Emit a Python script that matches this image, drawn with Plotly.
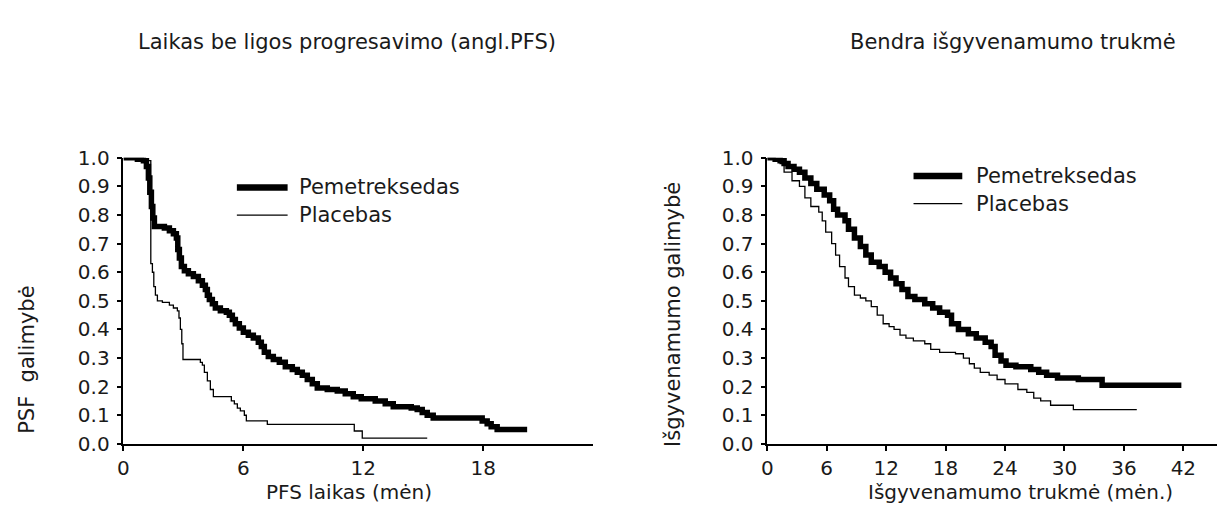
import plotly.graph_objects as go

# ---------------- data ----------------
pfs_pem_t = [0, 0.7, 1.0, 1.15, 1.25, 1.32, 1.4, 1.47, 1.55, 2.05, 2.3, 2.5, 2.65, 2.72, 2.8, 2.9,
             3.05, 3.25, 3.5, 3.75, 3.95, 4.1, 4.2, 4.3, 4.45, 4.6, 4.85, 5.15, 5.3, 5.45, 5.6,
             5.8, 6.0, 6.25, 6.5, 6.75, 6.9, 7.05, 7.25, 7.5, 7.8, 8.1, 8.45, 8.7, 8.95, 9.2,
             9.45, 9.7, 10.2, 10.7, 11.1, 11.5, 11.9, 12.6, 13.1, 13.5, 14.4, 14.7, 14.95,
             15.2, 15.5, 17.95, 18.2, 18.4, 18.7, 20.2]
pfs_pem_s = [1.0, 0.995, 0.99, 0.97, 0.93, 0.88, 0.83, 0.79, 0.76, 0.755, 0.745, 0.735, 0.72,
             0.68, 0.65, 0.62, 0.605, 0.595, 0.585, 0.57, 0.555, 0.54, 0.52, 0.505, 0.49, 0.475,
             0.465, 0.46, 0.45, 0.435, 0.42, 0.405, 0.39, 0.38, 0.37, 0.355, 0.34, 0.32, 0.305,
             0.295, 0.285, 0.27, 0.26, 0.25, 0.24, 0.225, 0.21, 0.195, 0.19, 0.185, 0.175, 0.165,
             0.158, 0.15, 0.14, 0.13, 0.125, 0.12, 0.11, 0.10, 0.09, 0.08, 0.07, 0.06, 0.05, 0.05]

pfs_pla_t = [0, 1.0, 1.37, 1.45, 1.52, 1.6, 1.7, 1.95, 2.3, 2.5, 2.7, 2.78, 2.85, 2.92, 2.98,
             3.85, 3.95, 4.05, 4.2, 4.35, 4.5, 5.4, 5.55, 5.7, 5.85, 6.05, 6.15, 7.2, 11.55,
             11.95, 15.2]
pfs_pla_s = [1.0, 0.99, 0.63, 0.60, 0.55, 0.52, 0.50, 0.495, 0.485, 0.475, 0.465, 0.44, 0.40,
             0.35, 0.295, 0.285, 0.275, 0.25, 0.22, 0.19, 0.165, 0.15, 0.14, 0.125, 0.115, 0.10,
             0.08, 0.068, 0.045, 0.02, 0.02]

os_pem_t = [0, 0.8, 1.3, 1.7, 2.1, 2.7, 3.25, 3.8, 4.4, 5.0, 5.75, 6.3, 6.7, 7.1, 7.85, 8.2,
            8.8, 9.4, 9.95, 10.5, 11.3, 11.9, 12.45, 13.0, 13.6, 14.2, 14.9, 15.9, 16.7, 17.4,
            18.2, 18.6, 19.3, 20.3, 21.1, 22.0, 22.6, 23.0, 23.6, 24.1, 25.1, 26.6, 27.4, 28.2,
            29.3, 31.4, 33.8, 41.8]
os_pem_s = [1.0, 0.995, 0.99, 0.98, 0.97, 0.96, 0.95, 0.93, 0.91, 0.89, 0.87, 0.85, 0.82, 0.80,
            0.78, 0.75, 0.72, 0.69, 0.66, 0.635, 0.62, 0.60, 0.58, 0.56, 0.54, 0.515, 0.505,
            0.49, 0.475, 0.46, 0.45, 0.42, 0.40, 0.385, 0.37, 0.355, 0.34, 0.31, 0.29, 0.275,
            0.27, 0.26, 0.25, 0.24, 0.23, 0.225, 0.205, 0.205]

os_pla_t = [0, 0.8, 1.3, 1.7, 2.5, 3.25, 3.8, 4.4, 5.2, 5.55, 5.9, 6.5, 6.9, 7.3, 7.85, 8.2,
            8.8, 9.4, 9.95, 10.5, 11.1, 11.7, 12.3, 12.8, 13.4, 14.0, 14.75, 15.9, 16.5, 17.4,
            19.0, 19.8, 20.4, 20.9, 21.5, 22.4, 23.2, 24.0, 25.3, 26.2, 26.9, 27.6, 28.6, 30.9,
            37.3]
os_pla_s = [1.0, 0.995, 0.98, 0.95, 0.92, 0.90, 0.86, 0.83, 0.81, 0.78, 0.74, 0.70, 0.66, 0.62,
            0.58, 0.55, 0.52, 0.51, 0.50, 0.48, 0.45, 0.42, 0.41, 0.40, 0.38, 0.37, 0.36, 0.35,
            0.33, 0.32, 0.315, 0.30, 0.28, 0.265, 0.25, 0.24, 0.225, 0.21, 0.19, 0.18, 0.16,
            0.15, 0.135, 0.12, 0.12]

pfs_xticks = [0, 6, 12, 18]
os_xticks = [0, 6, 12, 18, 24, 30, 36, 42]
y_ticks = [0.0, 0.1, 0.2, 0.3, 0.4, 0.5, 0.6, 0.7, 0.8, 0.9, 1.0]

series_names = ["Pemetreksedas", "Placebas"]
titles = ["Laikas be ligos progresavimo (angl.PFS)", "Bendra išgyvenamumo trukmė"]
x_titles = ["PFS laikas (mėn)", "Išgyvenamumo trukmė (mėn.)"]
y_titles = ["PSF  galimybė", "Išgyvenamumo galimybė"]

# ---------------- figure ----------------
W, H = 1224, 514
FONT = "DejaVu Sans"
FS = 21
FS_TICK = 20
FS_XT = 20
TXT = "#1a1a1a"

def px(x):
    return x / W

def py(y):
    return 1 - y / H

fig = go.Figure()
THICK, THIN = 5.5, 1.3

fig.add_trace(go.Scatter(x=pfs_pem_t, y=pfs_pem_s, mode="lines", line=dict(color="black", width=THICK, shape="hv"),
                         xaxis="x", yaxis="y", name=series_names[0], showlegend=False))
fig.add_trace(go.Scatter(x=pfs_pla_t, y=pfs_pla_s, mode="lines", line=dict(color="black", width=THIN, shape="hv"),
                         xaxis="x", yaxis="y", name=series_names[1], showlegend=False))
fig.add_trace(go.Scatter(x=os_pem_t, y=os_pem_s, mode="lines", line=dict(color="black", width=THICK, shape="hv"),
                         xaxis="x2", yaxis="y2", name=series_names[0], showlegend=False))
fig.add_trace(go.Scatter(x=os_pla_t, y=os_pla_s, mode="lines", line=dict(color="black", width=THIN, shape="hv"),
                         xaxis="x2", yaxis="y2", name=series_names[1], showlegend=False))

y_dom = [py(453), py(153)]
axis_common = dict(showgrid=False, zeroline=False, showline=True, linecolor="black", linewidth=1.5,
                   ticks="outside", tickwidth=1.5, tickcolor="black",
                   tickfont=dict(family=FONT, size=FS_TICK, color=TXT))

fig.update_layout(
    width=W, height=H,
    margin=dict(l=0, r=0, t=0, b=0),
    paper_bgcolor="white", plot_bgcolor="white",
    xaxis=dict(domain=[px(118), px(590)], range=[0, 23.5], tickvals=pfs_xticks, anchor="y",
               ticklen=5, ticklabelstandoff=0, **axis_common),
    yaxis=dict(domain=y_dom, range=[0, 1.0], tickvals=y_ticks, tickformat=".1f", anchor="x",
               ticklen=5, ticklabelstandoff=3, **axis_common),
    xaxis2=dict(domain=[px(765), px(1217)], range=[0, 45.4], tickvals=os_xticks, anchor="y2",
                ticklen=5, ticklabelstandoff=0, **axis_common),
    yaxis2=dict(domain=y_dom, range=[0, 1.0], tickvals=y_ticks, tickformat=".1f", anchor="x2",
                ticklen=5, ticklabelstandoff=3, **axis_common),
)

ann = []
# titles
ann.append(dict(text=titles[0], x=px(343), y=py(31), xref="paper", yref="paper", showarrow=False,
                xanchor="center", yanchor="middle", font=dict(family=FONT, size=FS, color=TXT)))
ann.append(dict(text=titles[1], x=px(1012), y=py(31), xref="paper", yref="paper", showarrow=False,
                xanchor="center", yanchor="middle", font=dict(family=FONT, size=FS, color=TXT)))
# x titles
ann.append(dict(text=x_titles[0], x=px(345), y=py(503), xref="paper", yref="paper", showarrow=False,
                xanchor="center", yanchor="middle", font=dict(family=FONT, size=FS_XT, color=TXT)))
ann.append(dict(text=x_titles[1], x=px(1019), y=py(503), xref="paper", yref="paper", showarrow=False,
                xanchor="center", yanchor="middle", font=dict(family=FONT, size=FS_XT, color=TXT)))
# y titles
ann.append(dict(text=y_titles[0], x=px(21), y=py(365), xref="paper", yref="paper", showarrow=False,
                textangle=-90, xanchor="center", yanchor="middle", font=dict(family=FONT, size=FS, color=TXT)))
ann.append(dict(text=y_titles[1], x=px(670), y=py(317), xref="paper", yref="paper", showarrow=False,
                textangle=-90, xanchor="center", yanchor="middle", font=dict(family=FONT, size=FS, color=TXT)))

# legends
shapes = []
legends = [
    dict(x0=232, x1=283, y=184, dy=29, tx=292),
    dict(x0=912, x1=961, y=172, dy=29, tx=973),
]
for lg in legends:
    for i, (nm, w) in enumerate(zip(series_names, [THICK + 1, THIN])):
        yy = lg["y"] + i * lg["dy"]
        shapes.append(dict(type="line", xref="paper", yref="paper", x0=px(lg["x0"]), x1=px(lg["x1"]),
                           y0=py(yy), y1=py(yy), line=dict(color="black", width=w)))
        ann.append(dict(text=nm, x=px(lg["tx"]), y=py(yy), xref="paper", yref="paper", showarrow=False,
                        xanchor="left", yanchor="middle", font=dict(family=FONT, size=FS, color=TXT)))

fig.update_layout(annotations=ann, shapes=shapes)
fig.write_html("out.html")
